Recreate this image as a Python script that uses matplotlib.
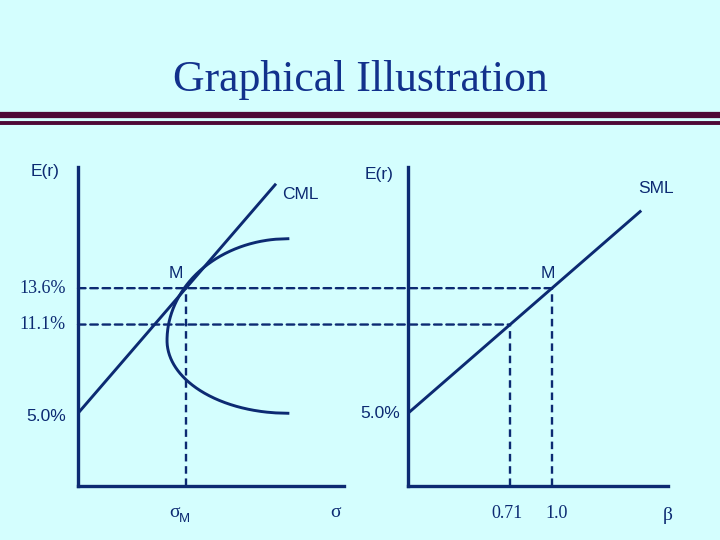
import numpy as np
import matplotlib
matplotlib.use("Agg")
import matplotlib.pyplot as plt
from matplotlib.patches import ConnectionPatch

# ---- data ----
rf = 5.0            # risk-free rate (%)
er_market = 13.6    # E(r) of market portfolio M (%)
er_asset = 11.1     # E(r) of the asset with beta 0.71 (%)
sigma_m = 20.0      # sigma of M (arbitrary units)
beta_asset = 0.71
beta_market = 1.0
cml_end_sigma = 36.7
sml_end_beta = 1.62
# efficient frontier (schematic): nose point, widths
front_nose_sigma = 16.5
front_nose_er = 10.0
front_width = 22.4
front_up = 7.0
front_down = 5.0

y_ticks_left = ["13.6%", "11.1%", "5.0%"]
x_ticks_right = ["0.71", "1.0"]

BG = "#D4FEFE"
NAVY = "#0C2A72"
TITLE = "#12318C"
MAROON = "#4E0836"

fig = plt.figure(figsize=(7.2, 5.4), dpi=100, facecolor=BG)

# title and rule lines
fig.text(0.5, 1 - 80 / 540, "Graphical Illustration", ha="center", va="center",
         family="Liberation Serif", fontsize=31.5, color=TITLE)
fig.add_artist(plt.Line2D([0, 1], [1 - 115 / 540] * 2, color=MAROON, lw=4.5,
                          transform=fig.transFigure))
fig.add_artist(plt.Line2D([0, 1], [1 - 123 / 540] * 2, color=MAROON, lw=2.8,
                          transform=fig.transFigure))

axL = fig.add_axes([78 / 720, 54 / 540, 266 / 720, 319 / 540])
axR = fig.add_axes([408 / 720, 54 / 540, 260 / 720, 319 / 540])
for ax, xmax in ((axL, 49.3), (axR, 1.806)):
    ax.set_facecolor("none")
    ax.set_xlim(0, xmax)
    ax.set_ylim(0, 21.93)
    ax.set_xticks([])
    ax.set_yticks([])
    for s in ("top", "right"):
        ax.spines[s].set_visible(False)
    for s in ("left", "bottom"):
        ax.spines[s].set_color(NAVY)
        ax.spines[s].set_linewidth(2.4)

LW = 2.1
DASH = dict(color=NAVY, lw=1.7, linestyle=(0, (3.2, 2.0)))

# CML
cml_slope = (er_market - rf) / sigma_m
xs = np.array([0, cml_end_sigma])
axL.plot(xs, rf + cml_slope * xs, color=NAVY, lw=LW, solid_capstyle="butt")

# frontier: two quarter ellipses
u_up = np.linspace(0, front_up, 200)
s_up = front_nose_sigma + front_width * (1 - np.sqrt(np.clip(1 - (u_up / front_up) ** 2, 0, 1)))
u_dn = np.linspace(0, front_down, 200)
s_dn = front_nose_sigma + front_width * (1 - np.sqrt(np.clip(1 - (u_dn / front_down) ** 2, 0, 1)))
fs = np.concatenate([s_dn[::-1], s_up])
fe = np.concatenate([front_nose_er - u_dn[::-1], front_nose_er + u_up])
axL.plot(fs, fe, color=NAVY, lw=LW)

# SML
sml_slope = (er_market - rf) / beta_market
bs = np.array([0, sml_end_beta])
axR.plot(bs, rf + sml_slope * bs, color=NAVY, lw=LW, solid_capstyle="butt")

# dashed guide lines
axL.plot([sigma_m, sigma_m], [0, er_market], **DASH)
axR.plot([beta_asset, beta_asset], [0, er_asset], **DASH)
axR.plot([beta_market, beta_market], [0, er_market], **DASH)
for yv, bx in ((er_market, beta_market), (er_asset, beta_asset)):
    cp = ConnectionPatch(xyA=(0, yv), coordsA=axL.transData,
                         xyB=(bx, yv), coordsB=axR.transData, **DASH)
    fig.add_artist(cp)

# labels
sans = dict(family="Liberation Sans", color=NAVY, fontsize=12.5)
serif = dict(family="Liberation Serif", color=NAVY, fontsize=13)

axL.text(-0.125, 0.985, "E(r)", transform=axL.transAxes, ha="center", va="center", **sans)
axR.text(-0.11, 0.975, "E(r)", transform=axR.transAxes, ha="center", va="center", **sans)
axL.text(cml_end_sigma + 4.5, rf + cml_slope * cml_end_sigma - 0.75, "CML",
         ha="center", va="center", **sans)
axR.text(sml_end_beta + 0.1, rf + sml_slope * sml_end_beta + 1.5, "SML",
         ha="center", va="center", **sans)
axL.text(sigma_m - 1.8, er_market + 1.0, "M", ha="center", va="center", **sans)
axR.text(beta_market - 0.03, er_market + 1.0, "M", ha="center", va="center", **sans)

ytr = axL.get_yaxis_transform()
axL.text(-0.045, er_market, y_ticks_left[0], transform=ytr, ha="right", va="center", **serif)
axL.text(-0.045, er_asset, y_ticks_left[1], transform=ytr, ha="right", va="center", **serif)
axL.text(-0.045, rf - 0.25, y_ticks_left[2], transform=ytr, ha="right", va="center", **sans)
axR.text(-0.03, rf - 0.05, y_ticks_left[2], transform=axR.get_yaxis_transform(),
         ha="right", va="center", **sans)

axL.text(sigma_m - 2.2, -1.85, "σ", ha="center", va="center",
         family="Liberation Serif", color=NAVY, fontsize=14)
axL.text(sigma_m - 0.25, -2.25, "M", ha="center", va="center",
         family="Liberation Sans", color=NAVY, fontsize=9.5)
axL.text(47.7, -1.85, "σ", ha="center", va="center",
         family="Liberation Serif", color=NAVY, fontsize=14)
axR.text(beta_asset - 0.02, -1.9, x_ticks_right[0], ha="center", va="center", **serif)
axR.text(beta_market + 0.035, -1.9, x_ticks_right[1], ha="center", va="center", **serif)
axR.text(1.806, -2.0, "β", ha="center", va="center",
         family="Liberation Serif", color=NAVY, fontsize=14)

fig.savefig("out.png", dpi=100, facecolor=BG)
